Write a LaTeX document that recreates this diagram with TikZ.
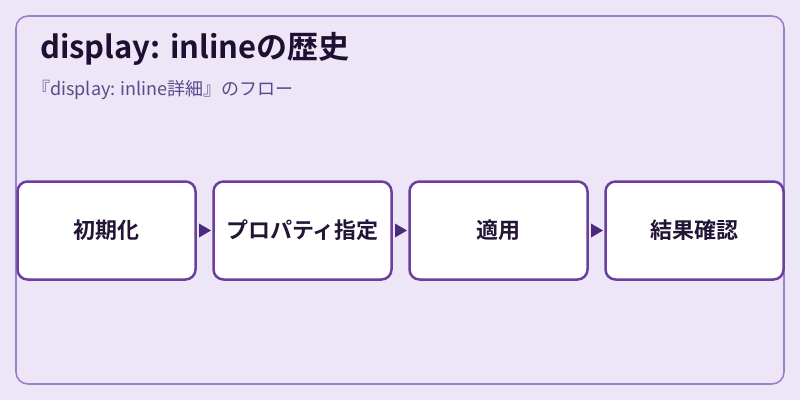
\documentclass[tikz,border=0pt]{standalone}
\usepackage{fontspec}
\setmainfont{Noto Sans CJK JP}[BoldFont={Noto Sans CJK JP Bold}]
\definecolor{bg}{HTML}{EDE6F6}
\definecolor{frame}{HTML}{9C7FCE}
\definecolor{boxline}{HTML}{6B3FA0}
\definecolor{arrowc}{HTML}{4B2A7D}
\definecolor{titlec}{HTML}{1E0F33}
\definecolor{subc}{HTML}{5B4A8B}
\definecolor{textc}{HTML}{231536}
\tikzset{
  stepbox/.style={draw=boxline, line width=2.5pt, fill=white, rounded corners=10pt,
    minimum width=178pt, minimum height=98pt, inner sep=0pt,
    font=\fontsize{22pt}{26pt}\selectfont\bfseries, text=textc},
  flowarrow/.style={fill=arrowc, draw=none}
}
\begin{document}
\begin{tikzpicture}[x=1pt,y=-1pt]
\useasboundingbox (0,0) rectangle (800,400);
\fill[bg] (0,0) rectangle (800,400);
\draw[frame, line width=1.6pt, rounded corners=12pt] (16,16) rectangle (784,384);
\node[anchor=base west, inner sep=0pt, text=titlec, font=\fontsize{31pt}{36pt}\selectfont\bfseries] (title) at (40,58) {display: inlineの歴史};
\node[anchor=base west, inner sep=0pt, text=subc, font=\fontsize{18pt}{22pt}\selectfont] (sub) at (32,95) {『display: inline詳細』のフロー};
\node[stepbox] (s1) at (106.5,230.5) {初期化};
\node[stepbox] (s2) at (302.5,230.5) {プロパティ指定};
\node[stepbox] (s3) at (498.5,230.5) {適用};
\node[stepbox] (s4) at (694.5,230.5) {結果確認};
\foreach \a/\b in {s1/s2,s2/s3,s3/s4}{
  \path (\a.east) -- (\b.west) coordinate[pos=0.5] (m\a);
  \fill[flowarrow] ([xshift=-5.5pt,yshift=-7pt]m\a) -- ([xshift=6.5pt]m\a) -- ([xshift=-5.5pt,yshift=7pt]m\a) -- cycle;
}
\end{tikzpicture}
\end{document}
